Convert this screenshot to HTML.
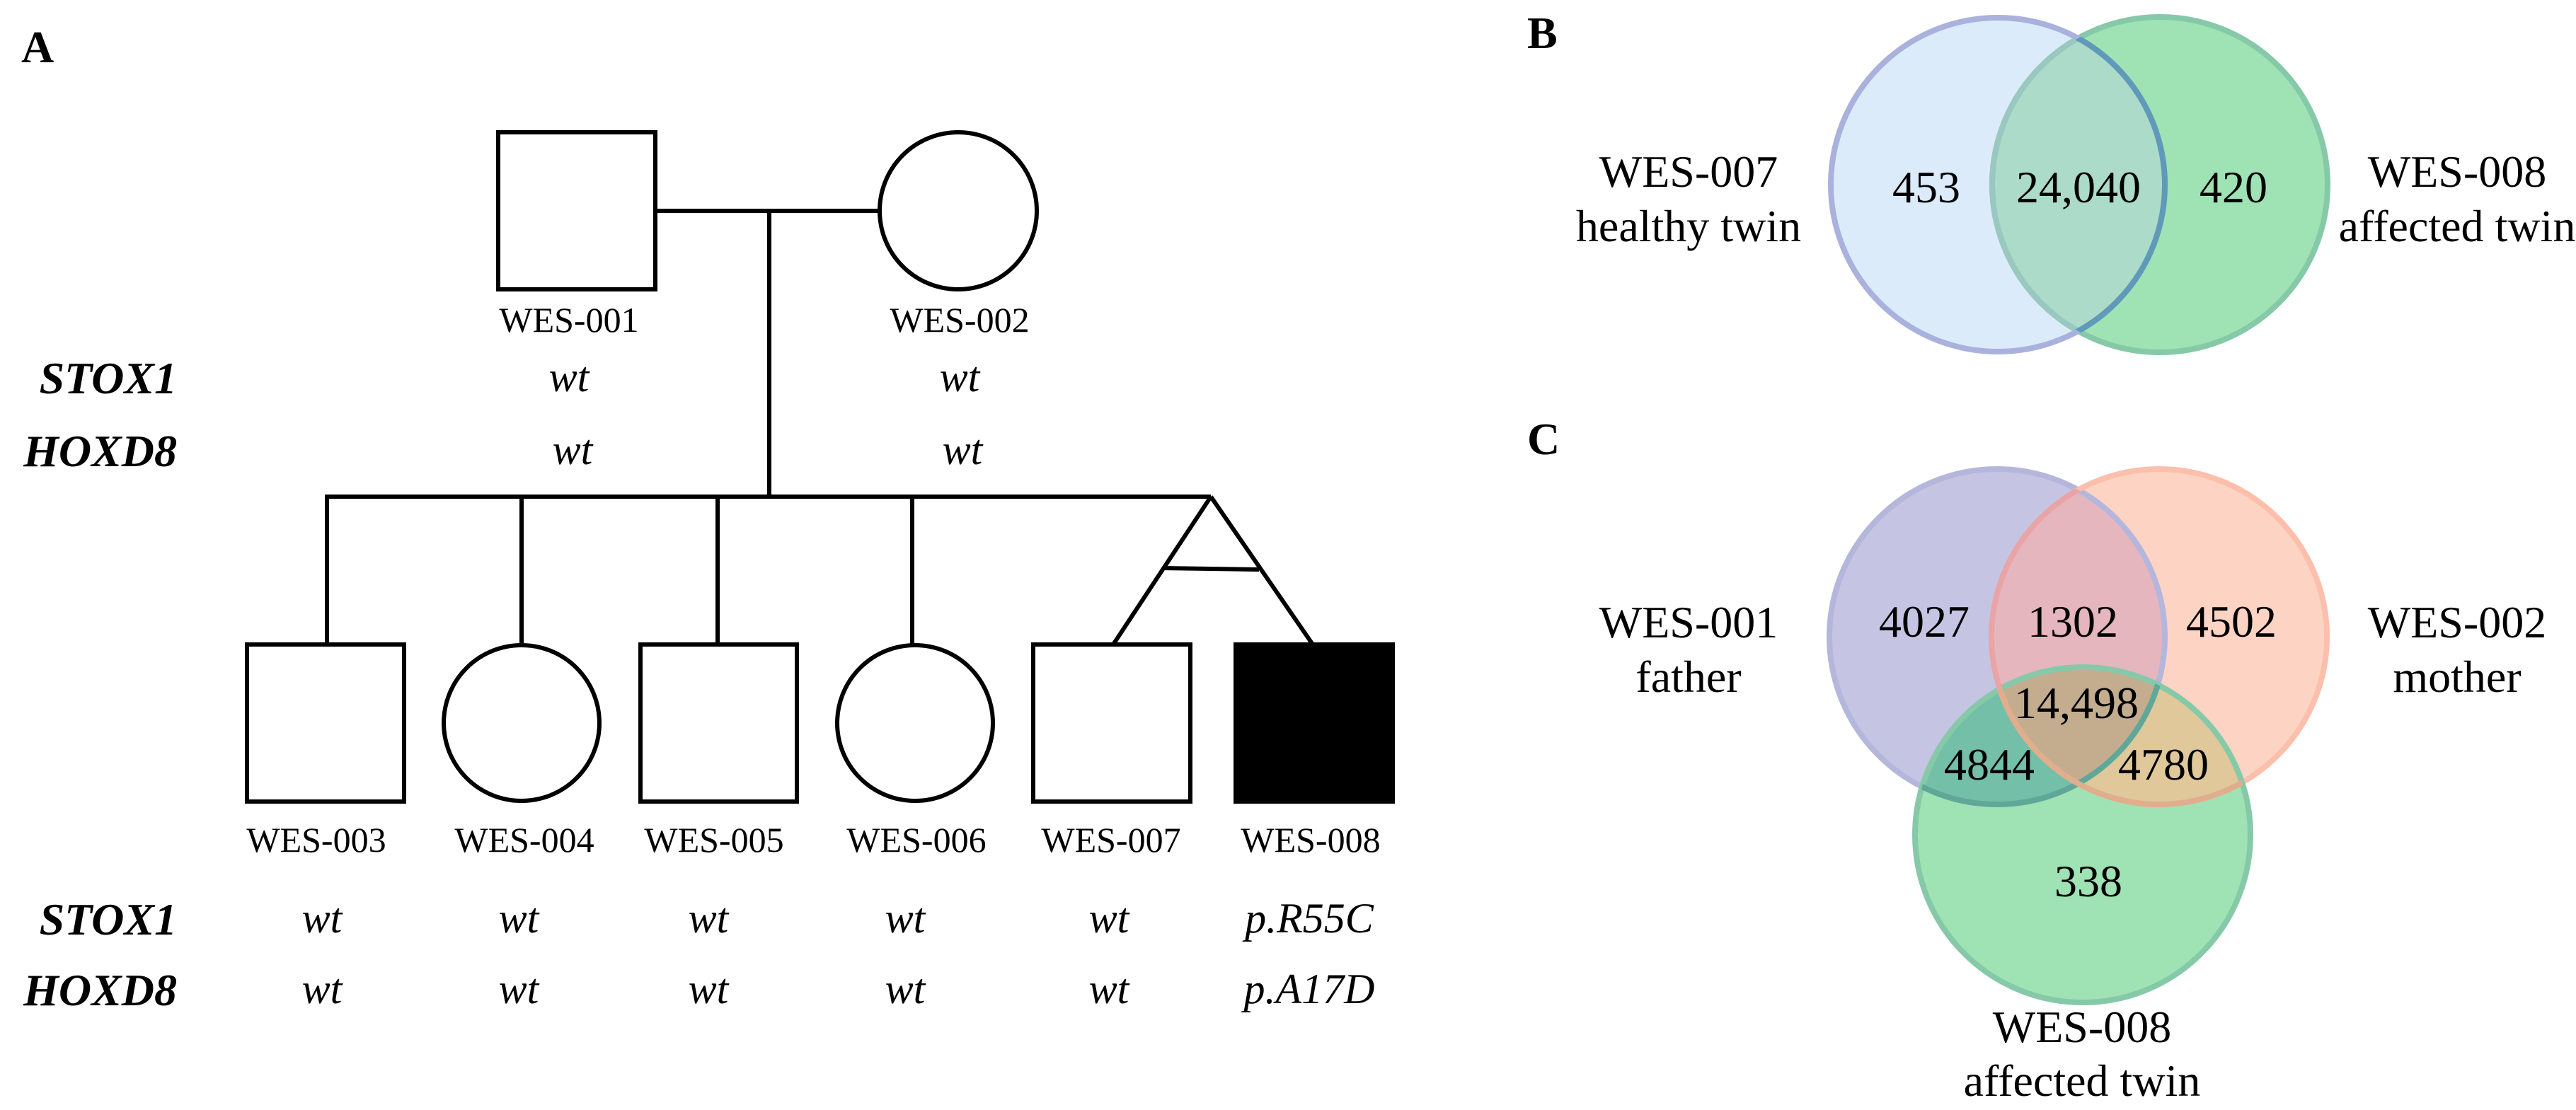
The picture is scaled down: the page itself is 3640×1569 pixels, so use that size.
<!DOCTYPE html>
<html><head><meta charset="utf-8"><style>
html,body{margin:0;padding:0;background:#fff;}
svg{display:block;}
text{font-family:"Liberation Serif",serif;fill:#000;}
</style></head><body>
<svg width="3640" height="1569" viewBox="0 0 3640 1569" xmlns="http://www.w3.org/2000/svg">
<defs>
<clipPath id="b1"><circle cx="2823" cy="261" r="236"/></clipPath>
<clipPath id="b2"><circle cx="3052" cy="261" r="237"/></clipPath>
<clipPath id="cP"><circle cx="2822" cy="900" r="237"/></clipPath>
<clipPath id="cO"><circle cx="3051" cy="900" r="237"/></clipPath>
<clipPath id="cG"><circle cx="2943" cy="1180" r="237"/></clipPath>
</defs>

<!-- Panel A -->
<text x="30" y="88" font-size="64" font-weight="bold">A</text>
<g stroke="#000" stroke-width="6" fill="none">
<rect x="704" y="187" width="222" height="222"/>
<circle cx="1354" cy="298" r="111"/>
<line x1="926" y1="298" x2="1243" y2="298"/>
<line x1="1087" y1="298" x2="1087" y2="702"/>
<line x1="459" y1="702" x2="1711" y2="702"/>
<line x1="462" y1="702" x2="462" y2="911"/>
<line x1="737" y1="702" x2="737" y2="911"/>
<line x1="1014" y1="702" x2="1014" y2="911"/>
<line x1="1289" y1="702" x2="1289" y2="911"/>
<line x1="1711" y1="702" x2="1573" y2="911"/>
<line x1="1711" y1="702" x2="1855" y2="911"/>
<line x1="1645" y1="803" x2="1779" y2="805"/>
<rect x="349" y="911" width="222" height="222"/>
<circle cx="737" cy="1022" r="110"/>
<rect x="905" y="911" width="221" height="222"/>
<circle cx="1293" cy="1022" r="110"/>
<rect x="1460" y="911" width="222" height="222"/>
<rect x="1746" y="911" width="222" height="222" fill="#000"/>
</g>
<g font-size="50" text-anchor="middle">
<text x="804" y="469">WES-001</text>
<text x="1356" y="469">WES-002</text>
<text x="447" y="1204">WES-003</text>
<text x="741" y="1204">WES-004</text>
<text x="1009" y="1204">WES-005</text>
<text x="1295" y="1204">WES-006</text>
<text x="1570" y="1204">WES-007</text>
<text x="1852" y="1204">WES-008</text>
</g>
<g font-size="64" font-weight="bold" font-style="italic" text-anchor="end">
<text x="250" y="556">STOX1</text>
<text x="250" y="659">HOXD8</text>
<text x="250" y="1321">STOX1</text>
<text x="250" y="1421">HOXD8</text>
</g>
<g font-size="60" font-style="italic" text-anchor="middle">
<text x="804" y="553">wt</text>
<text x="1356" y="553">wt</text>
<text x="809" y="656">wt</text>
<text x="1360" y="656">wt</text>
<text x="455" y="1318">wt</text>
<text x="733" y="1318">wt</text>
<text x="1001" y="1318">wt</text>
<text x="1279" y="1318">wt</text>
<text x="1567" y="1318">wt</text>
<text x="1850" y="1318">p.R55C</text>
<text x="455" y="1418">wt</text>
<text x="733" y="1418">wt</text>
<text x="1001" y="1418">wt</text>
<text x="1279" y="1418">wt</text>
<text x="1567" y="1418">wt</text>
<text x="1850" y="1418">p.A17D</text>
</g>

<!-- Panel B -->
<text x="2158" y="68" font-size="64" font-weight="bold">B</text>
<circle cx="2823" cy="261" r="236" fill="#dcebfa"/>
<circle cx="3052" cy="261" r="237" fill="#9fe2b4"/>
<circle cx="3052" cy="261" r="237" fill="#acdbc9" clip-path="url(#b1)"/>
<circle cx="3052" cy="261" r="237" fill="none" stroke="#86c9a8" stroke-width="8"/>
<circle cx="3052" cy="261" r="237" fill="none" stroke="#98c8c0" stroke-width="8" clip-path="url(#b1)"/>
<circle cx="2823" cy="261" r="236" fill="none" stroke="#a9b1dd" stroke-width="8"/>
<circle cx="2823" cy="261" r="236" fill="none" stroke="#5f9ab8" stroke-width="8" clip-path="url(#b2)"/>
<g font-size="64" text-anchor="middle">
<text x="2386" y="264">WES-007</text>
<text x="2386" y="341">healthy twin</text>
<text x="3472" y="264">WES-008</text>
<text x="3472" y="341">affected twin</text>
<text x="2722" y="286">453</text>
<text x="2937" y="286">24,040</text>
<text x="3156" y="286">420</text>
</g>

<!-- Panel C -->
<text x="2158" y="642" font-size="64" font-weight="bold">C</text>
<circle cx="2822" cy="900" r="237" fill="#c5c5e3"/>
<circle cx="3051" cy="900" r="237" fill="#fdd4c4"/>
<circle cx="2943" cy="1180" r="237" fill="#9fe2b4"/>
<g clip-path="url(#cP)"><circle cx="3051" cy="900" r="237" fill="#e5b6bd"/></g>
<g clip-path="url(#cP)"><circle cx="2943" cy="1180" r="237" fill="#74bfa8"/></g>
<g clip-path="url(#cO)"><circle cx="2943" cy="1180" r="237" fill="#e0c89a"/></g>
<g clip-path="url(#cP)"><g clip-path="url(#cO)"><circle cx="2943" cy="1180" r="237" fill="#c4ac8f"/></g></g>
<circle cx="2822" cy="900" r="237" fill="none" stroke="#b5b6dc" stroke-width="8"/>
<circle cx="3051" cy="900" r="237" fill="none" stroke="#fbbfac" stroke-width="8"/>
<circle cx="2943" cy="1180" r="237" fill="none" stroke="#86c9a8" stroke-width="8"/>
<g clip-path="url(#cP)"><circle cx="3051" cy="900" r="237" fill="none" stroke="#e8a4a6" stroke-width="8"/></g>
<g clip-path="url(#cG)"><circle cx="2822" cy="900" r="237" fill="none" stroke="#5fa898" stroke-width="8"/></g>
<g clip-path="url(#cG)"><circle cx="3051" cy="900" r="237" fill="none" stroke="#e0ae8c" stroke-width="8"/></g>
<g font-size="64" text-anchor="middle">
<text x="2386" y="901">WES-001</text>
<text x="2386" y="978">father</text>
<text x="3472" y="901">WES-002</text>
<text x="3472" y="978">mother</text>
<text x="2942" y="1473">WES-008</text>
<text x="2942" y="1549">affected twin</text>
<text x="2719" y="900">4027</text>
<text x="2929" y="900">1302</text>
<text x="3153" y="900">4502</text>
<text x="2934" y="1015">14,498</text>
<text x="2811" y="1102">4844</text>
<text x="3057" y="1102">4780</text>
<text x="2951" y="1267">338</text>
</g>
</svg>
</body></html>
